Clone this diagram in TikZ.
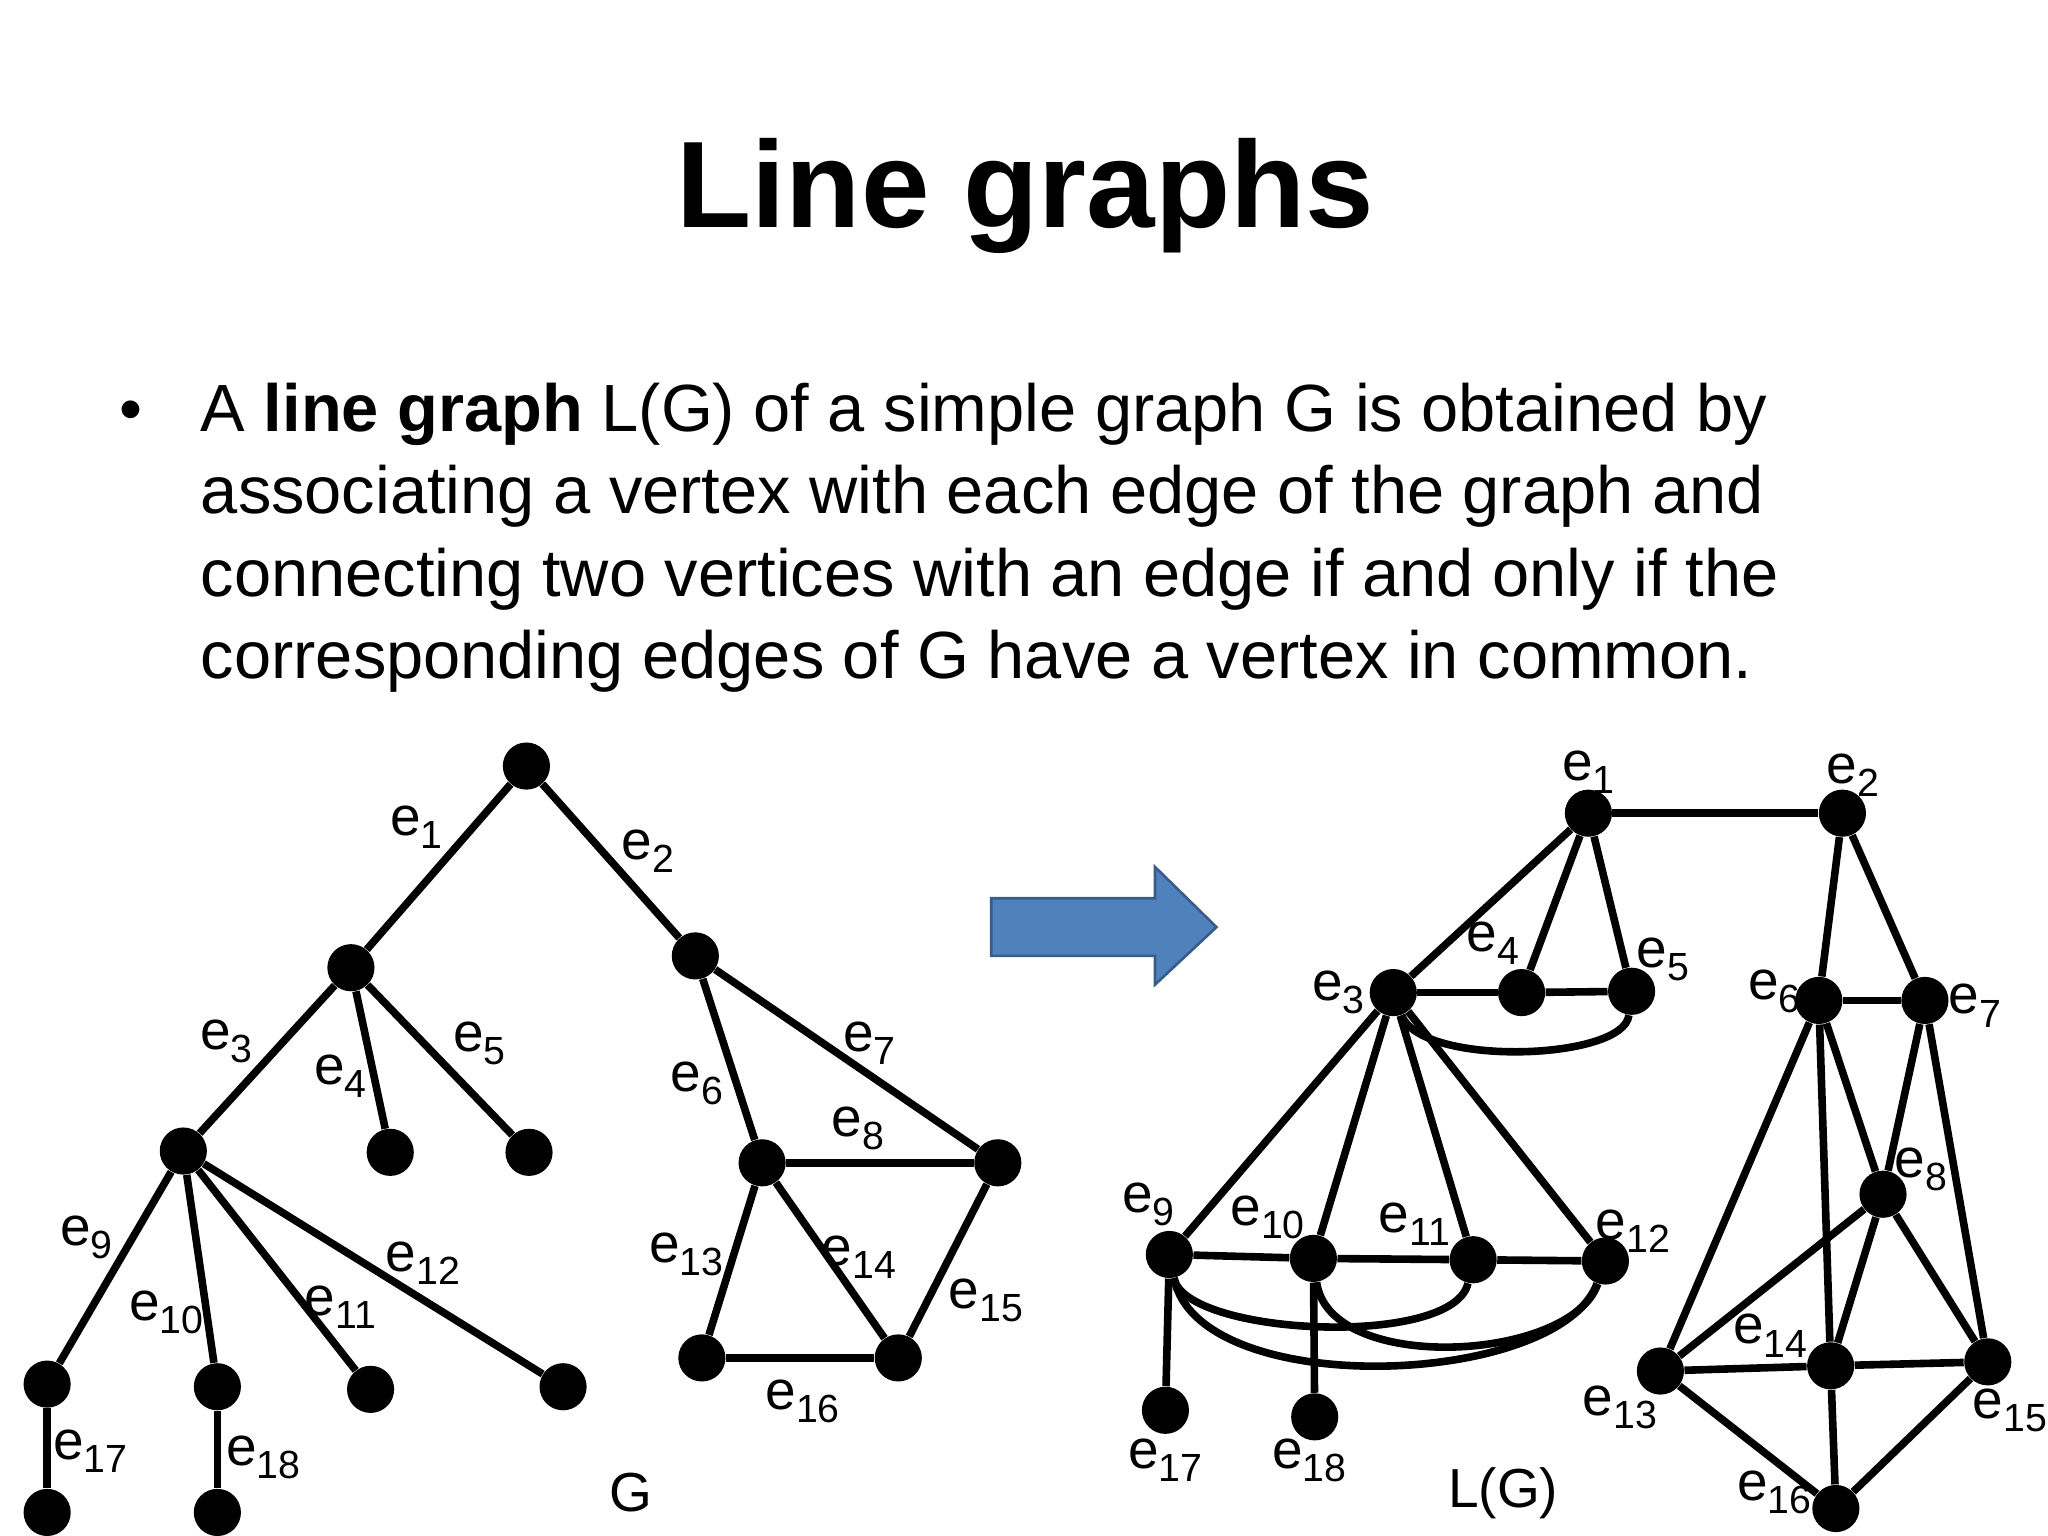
\documentclass[tikz,border=0pt]{standalone}
\usepackage{fontspec}
\setmainfont{Liberation Sans}
\usetikzlibrary{shapes.arrows}
\newcommand{\lb}[1]{e\raisebox{-0.45ex}{\fontsize{15}{15}\selectfont #1}}
\begin{document}
\begin{tikzpicture}[x=0.5pt,y=-0.5pt,
  vtx/.style={circle,fill=black,inner sep=0pt,minimum size=18pt},
  ed/.style={line width=2.9pt},
  lbl/.style={font=\fontsize{21}{21}\selectfont,inner sep=0pt}]
\useasboundingbox (0,0) rectangle (1564,1173);
\node[font=\bfseries\fontsize{47}{47}\selectfont] (title) at (783,150) {Line graphs};
\node[inner sep=0pt,font=\fontsize{25}{25}\selectfont] (bul) at (100,318) {•};
\node[anchor=north west,inner sep=0pt,align=left,font=\fontsize{25.5}{31.5}\selectfont] (txt) at (153,292)
 {A \textbf{line graph} L(G) of a simple graph G is obtained by\\
  associating a vertex with each edge of the graph and\\
  connecting two vertices with an edge if and only if the\\
  corresponding edges of G have a vertex in common.};
% arrow
\path[fill={rgb,255:red,79;green,129;blue,189},draw={rgb,255:red,56;green,93;blue,138},line width=1pt]
 (757,686) -- (882,686) -- (882,662) -- (929,708) -- (882,752) -- (882,730) -- (757,730) -- cycle;
% left graph G
\foreach \n/\x/\y in {r/402/585,a/268/739,b/531/730,c/140/879,d4/298/880,d5/404/880,f/582/888,g/762/888,h/536/1037,i/686/1037,j9/36/1057,j10/166/1059,j11/283/1061,j12/430/1059,k17/36/1155,k18/166/1155}
  \node[vtx] (\n) at (\x,\y) {};
\foreach \u/\v in {r/a,r/b,a/c,a/d4,a/d5,b/f,b/g,f/g,c/j9,c/j10,c/j11,c/j12,f/h,f/i,g/i,h/i,j9/k17,j10/k18}
  \draw[ed] (\u) -- (\v);
\foreach \n/\x/\y in {1/318/632,2/495/650,3/173/795,4/260/822,5/366/797,6/532/827,7/664/797,8/655/862,9/66/945,10/127/1002,11/260/998,12/323/965,13/524/958,14/656/960,15/753/993,16/613/1070,17/69/1108,18/201/1113}
  \node[lbl] (l\n) at (\x,\y) {\lb{\n}};
\node[lbl] (gl) at (482,1140) {G};
% right graph L(G)
\foreach \n/\x/\y in {1/1213/621,2/1407/621,3/1064/758,4/1162/758,5/1246/757,6/1389/764,7/1470/764,8/1438/912,9/893/958,10/1003/961,11/1125/962,12/1226/963,13/1268/1047,14/1398/1043,15/1518/1040,16/1402/1152,17/890/1077,18/1004/1082}
  \node[vtx] (E\n) at (\x,\y) {};
\foreach \u/\v in {1/2,1/3,1/4,1/5,3/4,4/5,2/6,2/7,6/7,3/9,3/10,3/11,3/12,9/10,10/11,11/12,9/17,10/18,6/13,6/14,6/8,7/8,7/15,8/13,8/14,8/15,13/14,14/15,13/16,14/16,15/16}
  \draw[ed] (E\u) -- (E\v);
\draw[ed] (E3) .. controls (1085,815) and (1240,810) .. (E5);
\draw[ed] (E9) .. controls (905,1020) and (1110,1030) .. (E11);
\draw[ed] (E9) .. controls (915,1070) and (1190,1060) .. (E12);
\draw[ed] (E10) .. controls (1015,1050) and (1200,1040) .. (E12);
\foreach \n/\x/\y in {1/1213/590,2/1415/592,3/1022/758,4/1140/720,5/1270/733,6/1355/757,7/1508/768,8/1467/893,9/877/920,10/968/930,11/1080/935,12/1247/940,13/1237/1075,14/1352/1020,15/1535/1077,16/1355/1140,17/890/1115,18/1000/1115}
  \node[lbl] (m\n) at (\x,\y) {\lb{\n}};
\node[lbl] (lg) at (1148,1140) {L(G)};
\end{tikzpicture}
\end{document}
